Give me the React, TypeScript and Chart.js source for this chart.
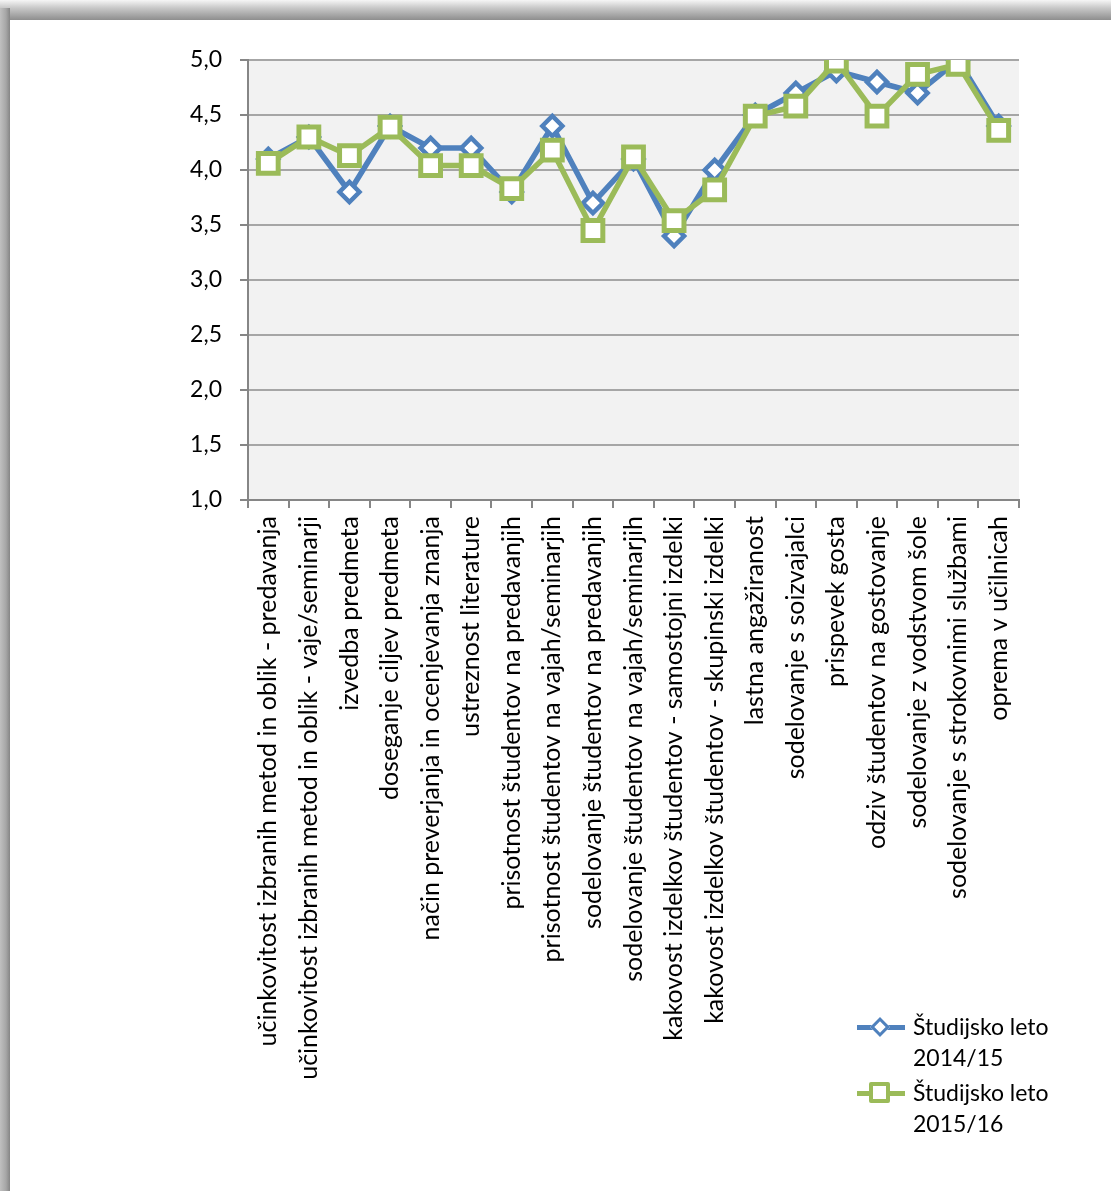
import React, { useEffect, useRef } from "react";
import { Chart, registerables } from "chart.js";

Chart.register(...registerables);

const categories = [
  "učinkovitost izbranih metod in oblik - predavanja",
  "učinkovitost izbranih metod in oblik - vaje/seminarji",
  "izvedba predmeta",
  "doseganje ciljev predmeta",
  "način preverjanja in ocenjevanja znanja",
  "ustreznost literature",
  "prisotnost študentov na predavanjih",
  "prisotnost študentov na vajah/seminarjih",
  "sodelovanje študentov na predavanjih",
  "sodelovanje študentov na vajah/seminarjih",
  "kakovost izdelkov študentov - samostojni izdelki",
  "kakovost izdelkov študentov - skupinski izdelki",
  "lastna angažiranost",
  "sodelovanje s soizvajalci",
  "prispevek gosta",
  "odziv študentov na gostovanje",
  "sodelovanje z vodstvom šole",
  "sodelovanje s strokovnimi službami",
  "oprema v učilnicah",
];

const series2014Label = "Študijsko leto 2014/15";
const series2014 = [4.1, 4.3, 3.8, 4.4, 4.2, 4.2, 3.8, 4.4, 3.7, 4.1, 3.4, 4.0, 4.5, 4.7, 4.9, 4.8, 4.7, 5.0, 4.4];

const series2015Label = "Študijsko leto 2015/16";
const series2015 = [4.06, 4.3, 4.13, 4.39, 4.04, 4.04, 3.83, 4.18, 3.45, 4.12, 3.54, 3.82, 4.49, 4.58, 4.99, 4.49, 4.87, 4.96, 4.36];

const yMin = 1;
const yMax = 5;
const yStep = 0.5;

const BLUE = "#4f81bd";
const GREEN = "#9bbb59";
const FONT = "Lato, 'Liberation Sans', sans-serif";

const plotBg = {
  id: "plotBg",
  beforeDraw(chart: any) {
    const { ctx, chartArea } = chart;
    ctx.save();
    ctx.fillStyle = "#f2f2f2";
    ctx.fillRect(chartArea.left, chartArea.top, chartArea.right - chartArea.left, chartArea.bottom - chartArea.top);
    ctx.restore();
  },
};

function LegendEntry({ top, color, shape, lines }: { top: number; color: string; shape: "diamond" | "square"; lines: string[] }) {
  const marker =
    shape === "diamond" ? (
      <div
        style={{
          position: "absolute",
          left: 880 - 7,
          top: top - 7,
          width: 8,
          height: 8,
          background: "#fff",
          border: `3px solid ${color}`,
          transform: "rotate(45deg)",
        }}
      />
    ) : (
      <div
        style={{
          position: "absolute",
          left: 880 - 11,
          top: top - 11,
          width: 13,
          height: 13,
          background: "#fff",
          border: `4.5px solid ${color}`,
          borderRadius: 2,
        }}
      />
    );
  return (
    <>
      <div style={{ position: "absolute", left: 857, top: top - 2.5, width: 48, height: 5, background: color }} />
      {marker}
      <div
        style={{
          position: "absolute",
          left: 913,
          top: top - 16,
          fontFamily: FONT,
          fontSize: 23,
          lineHeight: "31px",
          color: "#000",
          whiteSpace: "nowrap",
        }}
      >
        {lines.map((l, i) => (
          <div key={i}>{l}</div>
        ))}
      </div>
    </>
  );
}

export default function App() {
  const canvasRef = useRef<HTMLCanvasElement | null>(null);

  useEffect(() => {
    if (!canvasRef.current) return;
    const chart = new Chart(canvasRef.current, {
      type: "line",
      data: {
        labels: categories,
        datasets: [
          {
            label: series2014Label,
            data: series2014,
            borderColor: BLUE,
            backgroundColor: "#ffffff",
            borderWidth: 5.5,
            pointStyle: "rectRot",
            pointRadius: 10,
            pointBorderWidth: 4.5,
            pointBorderColor: BLUE,
            pointBackgroundColor: "#ffffff",
            tension: 0,
            order: 1,
          },
          {
            label: series2015Label,
            data: series2015,
            borderColor: GREEN,
            backgroundColor: "#ffffff",
            borderWidth: 5.5,
            pointStyle: "rect",
            pointRadius: 14,
            pointBorderWidth: 5,
            pointBorderColor: GREEN,
            pointBackgroundColor: "#ffffff",
            tension: 0,
            order: 0,
          },
        ],
      },
      options: {
        responsive: false,
        animation: false,
        events: [],
        layout: { padding: { left: 0, top: 60, right: 92, bottom: 0 } },
        plugins: {
          legend: { display: false },
          tooltip: { enabled: false },
          title: { display: false },
        },
        scales: {
          x: {
            type: "category",
            offset: true,
            grid: {
              display: true,
              offset: true,
              drawOnChartArea: false,
              drawTicks: true,
              tickLength: 8,
              color: "#868686",
              lineWidth: 2,
            },
            border: { display: true, color: "#868686", width: 2 },
            ticks: {
              autoSkip: false,
              minRotation: 90,
              maxRotation: 90,
              padding: 8,
              color: "#000",
              font: { family: FONT, size: 25 },
            },
            afterFit(scale: any) {
              scale.height = 691;
            },
          },
          y: {
            min: yMin,
            max: yMax,
            grid: {
              color: "#a6a6a6",
              lineWidth: 2,
              drawTicks: true,
              tickLength: 8,
              tickColor: "#868686",
            },
            border: { display: true, color: "#868686", width: 2 },
            ticks: {
              stepSize: yStep,
              padding: 18,
              color: "#000",
              font: { family: FONT, size: 23 },
              callback: (v: any) => Number(v).toFixed(1).replace(".", ","),
            },
            afterFit(scale: any) {
              scale.width = 248;
            },
          },
        },
      },
      plugins: [plotBg],
    } as any);
    return () => chart.destroy();
  }, []);

  return (
    <div style={{ position: "fixed", left: 0, top: 0, width: 1111, height: 1191, background: "#fff", overflow: "hidden" }}>
      <div
        style={{
          position: "absolute",
          left: 0,
          top: 0,
          width: 1111,
          height: 20,
          background: "linear-gradient(to bottom, #f6f6f6 0%, #c8c8c8 40%, #8e8e8e 100%)",
        }}
      />
      <div
        style={{
          position: "absolute",
          left: 0,
          top: 8,
          width: 10,
          height: 1183,
          background: "linear-gradient(to right, #c0c0c0 0%, #a6a6a6 60%, #858585 100%)",
        }}
      />
      <canvas ref={canvasRef} width={1111} height={1191} style={{ position: "absolute", left: 0, top: 0 }} />
      <LegendEntry top={1027} color={BLUE} shape="diamond" lines={["Študijsko leto", "2014/15"]} />
      <LegendEntry top={1093} color={GREEN} shape="square" lines={["Študijsko leto", "2015/16"]} />
    </div>
  );
}
